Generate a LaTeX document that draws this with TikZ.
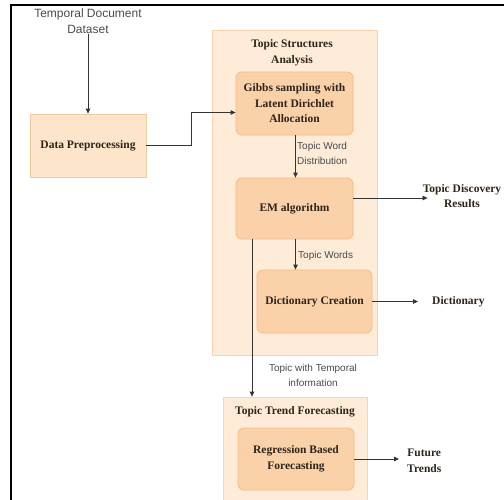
\documentclass[tikz,border=0pt]{standalone}
\usepackage{fontspec}
\setmainfont{Liberation Serif}
\setsansfont{Liberation Sans}
\usetikzlibrary{arrows.meta,calc}
\definecolor{contfill}{HTML}{FEEBD8}
\definecolor{contdraw}{HTML}{F9D3AA}
\definecolor{boxfill}{HTML}{FBD1AA}
\definecolor{boxdraw}{HTML}{F5BC85}
\definecolor{dpfill}{HTML}{FDE5CC}
\definecolor{dpdraw}{HTML}{F3CA9C}
\definecolor{txt}{HTML}{2E2418}
\definecolor{lbl}{HTML}{4A4A4A}
\tikzset{
  boxtext/.style={font=\fontsize{11.5}{15.5}\selectfont\bfseries, text=txt, align=center},
  inner/.style={boxtext, draw=boxdraw, fill=boxfill, rounded corners=6pt, line width=0.8pt, minimum width=116pt, minimum height=62pt, inner sep=0pt},
  plain/.style={boxtext, draw=dpdraw, fill=dpfill, line width=0.8pt, minimum width=116pt, minimum height=63pt, inner sep=0pt},
  lbltext/.style={font=\sffamily\fontsize{10}{15}\selectfont, text=lbl, inner sep=0pt},
  arr/.style={draw=black!80, line width=0.8pt, -{Triangle[length=5pt,width=4.5pt]}},
}
\begin{document}
\begin{tikzpicture}[x=1pt,y=-1pt]
\useasboundingbox (0,0) rectangle (504,499);
\begin{scope}
\clip (0,0) rectangle (504,499);
% frame
\draw[line width=1.6pt] (11,520) -- (11,5) -- (510,5);
% containers
\node[draw=contdraw, fill=contfill, line width=0.8pt, minimum width=165pt, minimum height=325pt, inner sep=0pt] (tsa) at (294.5,192.5) {};
\node[boxtext, anchor=center] (tsatitle) at (292,52.5) {Topic Structures\\Analysis};
\node[draw=contdraw, fill=contfill, line width=0.8pt, minimum width=144pt, minimum height=120pt, inner sep=0pt] (ttf) at (295,457) {};
\node[boxtext] (ttftitle) at (295,412) {Topic Trend Forecasting};
% boxes
\node[lbltext, align=center, font=\sffamily\fontsize{12}{16}\selectfont] (dataset) at (88,21) {Temporal Document\\Dataset};
\node[plain] (dp) at (88,145.5) {Data Preprocessing};
\node[inner, minimum width=117pt, minimum height=63pt] (gibbs) at (294.5,103.5) {Gibbs sampling with\\Latent Dirichlet\\Allocation};
\node[inner, minimum width=117pt, minimum height=61pt] (em) at (294.5,208.5) {EM algorithm};
\node[inner, minimum width=115pt, minimum height=63pt] (dict) at (314.5,301.5) {Dictionary Creation};
\node[inner, minimum width=116pt, minimum height=62pt] (reg) at (296,459) {Regression Based\\Forecasting};
% outputs
\node[boxtext, inner sep=0pt] (tdr) at (462,196) {Topic Discovery\\Results};
\node[boxtext, anchor=west, inner sep=0pt] (dictout) at (432,302) {Dictionary};
\node[boxtext, anchor=west, inner sep=0pt] (future) at (407,461) {Future\\Trends};
% connectors
\draw[arr] (dataset.south -| dp.north) -- (dp.north);
\draw[arr] (dp.east) -- ++(45,0) |- ([yshift=-9pt]gibbs.west);
\coordinate (gb) at ([xshift=1pt]gibbs.south);
\draw[arr] (gb) -- (gb |- em.north);
\node[lbltext, anchor=west, align=left] (twd) at (297,153) {Topic Word\\Distribution};
\coordinate (emr) at ([yshift=10.5pt]em.east);
\draw[arr] (emr) -- ($(tdr.west |- emr)+(5,0)$);
\coordinate (emb) at ([xshift=1pt]em.south);
\draw[arr] (emb) -- (emb |- dict.north);
\node[lbltext, anchor=west] (tw) at (298,256) {Topic Words};
\draw[arr] (dict.east) -- ($(dictout.west |- dict.east)+(-14,0)$);
\coordinate (emsl) at ([xshift=-42.5pt]em.south);
\draw[arr] (emsl) -- (emsl |- ttf.north);
\node[lbltext, align=center] (twt) at (313,375.5) {Topic with Temporal\\information};
\draw[arr] (reg.east) -- ($(future.west |- reg.east)+(-8,0)$);
\end{scope}
\end{tikzpicture}
\end{document}
